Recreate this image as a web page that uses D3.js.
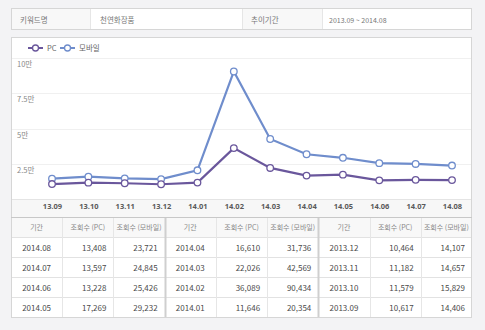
<!DOCTYPE html>
<html><head><meta charset="utf-8">
<script src="https://cdn.jsdelivr.net/npm/d3@7"></script>
<style>
html,body{margin:0;padding:0;background:#f3f3f5;}
svg{display:block;font-family:"Noto Sans CJK KR","Noto Sans",sans-serif;}
</style></head><body>
<svg id="c" width="485" height="330"></svg>
<script>
const months = ["13.09","13.10","13.11","13.12","14.01","14.02","14.03","14.04","14.05","14.06","14.07","14.08"];
const periods = ["2013.09","2013.10","2013.11","2013.12","2014.01","2014.02","2014.03","2014.04","2014.05","2014.06","2014.07","2014.08"];
const pcValues = [10617,11579,11182,10464,11646,36089,22026,16610,17269,13228,13597,13408];
const mobileValues = [14406,15829,14657,14107,20354,90434,42569,31736,29232,25426,24845,23721];
const yTicks = [25000,50000,75000,100000];
const yTickLabels = ["2.5만","5만","7.5만","10만"];
const seriesNames = ["PC","모바일"];
const headers = ["기간","조회수 (PC)","조회수 (모바일)"];
const infoLabels = ["키워드명","천연화장품","추이기간","2013.09 ~ 2014.08"];

const svg = d3.select("#c");
const L = 11, R = 472;
const pcColor = "#6a579c", mobColor = "#6f8dcc";

// info box
const infoCols = [L, 90, 242, 322, R];
infoLabels.forEach((t,i)=>{
  svg.append("rect").attr("x",infoCols[i]).attr("y",8).attr("width",infoCols[i+1]-infoCols[i]).attr("height",22)
    .attr("fill", i%2===0 ? "#f8f8f8" : "#fff");
  svg.append("text").attr("x",infoCols[i]+(i===3?7:(i===1?10:9))).attr("y",22.5)
    .attr("font-size", i===3?7:7.5).attr("fill","#777").text(t);
});
svg.append("rect").attr("x",L+0.5).attr("y",8.5).attr("width",R-L-1).attr("height",21).attr("fill","none").attr("stroke","#d6d6d6");
[90,242,322].forEach(x=>svg.append("line").attr("x1",x+0.5).attr("x2",x+0.5).attr("y1",9).attr("y2",29).attr("stroke","#e6e6e6"));

// chart panel
svg.append("rect").attr("x",L+0.5).attr("y",37.5).attr("width",R-L-1).attr("height",180).attr("fill","#fff").attr("stroke","#d6d6d6");
svg.append("rect").attr("x",L+1).attr("y",199.5).attr("width",R-L-2).attr("height",17.5).attr("fill","#f7f7f7");

const x = d3.scalePoint().domain(months).range([52,452]);
const y = d3.scaleLinear().domain([0,100000]).range([199,58]);

// grid
const grid = svg.append("g");
grid.selectAll("line").data([0].concat(yTicks)).join("line")
  .attr("x1",L+1).attr("x2",R-1).attr("y1",d=>Math.round(y(d))+0.5).attr("y2",d=>Math.round(y(d))+0.5)
  .attr("stroke",d=>d===0?"#e4e4e4":"#f0f0f0");
grid.selectAll("text").data(yTicks).join("text")
  .attr("x",17).attr("y",d=>y(d)+9).attr("font-size",7.5).attr("fill","#888")
  .text((d,i)=>yTickLabels[i]);

// x axis
const xAxis = d3.axisBottom(x).tickSize(0).tickPadding(0);
const gx = svg.append("g").attr("transform","translate(0,205)").call(xAxis);
gx.select(".domain").remove();
gx.selectAll("text").attr("font-size",7.5).attr("font-weight","bold").attr("fill","#5a5a5a")
  .attr("font-family","'Noto Sans',sans-serif").attr("dy","0.5em");

// lines
const line = d3.line().x((d,i)=>x(months[i])).y(d=>y(d));
[[mobileValues,mobColor],[pcValues,pcColor]].forEach(([vals,col])=>{
  svg.append("path").datum(vals).attr("d",line).attr("fill","none").attr("stroke",col).attr("stroke-width",2.2);
  svg.append("g").selectAll("circle").data(vals).join("circle")
    .attr("cx",(d,i)=>x(months[i])).attr("cy",d=>y(d)).attr("r",3.3)
    .attr("fill","#fff").attr("stroke",col).attr("stroke-width",1.3);
});

// legend
[[28,pcColor,seriesNames[0]],[60,mobColor,seriesNames[1]]].forEach(([lx,col,name])=>{
  svg.append("line").attr("x1",lx).attr("x2",lx+15).attr("y1",48).attr("y2",48).attr("stroke",col).attr("stroke-width",2);
  svg.append("circle").attr("cx",lx+7.5).attr("cy",48).attr("r",3).attr("fill","#fff").attr("stroke",col).attr("stroke-width",1.3);
  svg.append("text").attr("x",lx+19).attr("y",51).attr("font-size",7.5).attr("fill","#666").text(name);
});

// table
const colW = (R-L)/9;
const tTop = 217, hh = 20, rh = 20;
const rev = d3.range(12).reverse();
svg.append("rect").attr("x",L).attr("y",tTop).attr("width",R-L).attr("height",hh).attr("fill","#f8f8f8");
svg.append("rect").attr("x",L).attr("y",tTop+hh).attr("width",R-L).attr("height",rh*4).attr("fill","#fff");
for(let g=0; g<3; g++){
  headers.forEach((h,c)=>{
    const cx = L + (g*3+c)*colW;
    svg.append("text").attr("x",cx+colW/2).attr("y",tTop+13).attr("text-anchor","middle")
      .attr("font-size",7).attr("fill","#888").text(h);
  });
  for(let r=0;r<4;r++){
    const idx = rev[g*4+r];
    const ty = tTop+hh+r*rh+13.5;
    const cx0 = L + g*3*colW;
    svg.append("text").attr("x",cx0+colW/2).attr("y",ty).attr("text-anchor","middle").attr("font-size",8).attr("fill","#4a4a4a").text(periods[idx]);
    svg.append("text").attr("x",cx0+2*colW-7).attr("y",ty).attr("text-anchor","end").attr("font-size",8).attr("fill","#4a4a4a").text(d3.format(",")(pcValues[idx]));
    svg.append("text").attr("x",cx0+3*colW-7).attr("y",ty).attr("text-anchor","end").attr("font-size",8).attr("fill","#4a4a4a").text(d3.format(",")(mobileValues[idx]));
  }
}
// table lines
for(let r=1;r<=4;r++){
  svg.append("line").attr("x1",L).attr("x2",R).attr("y1",tTop+hh+(r-1)*rh+0.5).attr("y2",tTop+hh+(r-1)*rh+0.5).attr("stroke","#e2e2e2");
}
for(let c=1;c<9;c++){
  const xx = Math.round(L+c*colW);
  const thick = c%3===0;
  svg.append("line").attr("x1",xx+0.5).attr("x2",xx+0.5).attr("y1",tTop).attr("y2",tTop+hh+4*rh)
    .attr("stroke",thick?"#cfcfcf":"#e6e6e6").attr("stroke-width",thick?2:1);
}
svg.append("rect").attr("x",L+0.5).attr("y",tTop+0.5).attr("width",R-L-1).attr("height",hh+4*rh).attr("fill","none").attr("stroke","#d6d6d6");
svg.append("line").attr("x1",L).attr("x2",R).attr("y1",tTop+0.5).attr("y2",tTop+0.5).attr("stroke","#c8c8c8");
</script>
</body></html>
